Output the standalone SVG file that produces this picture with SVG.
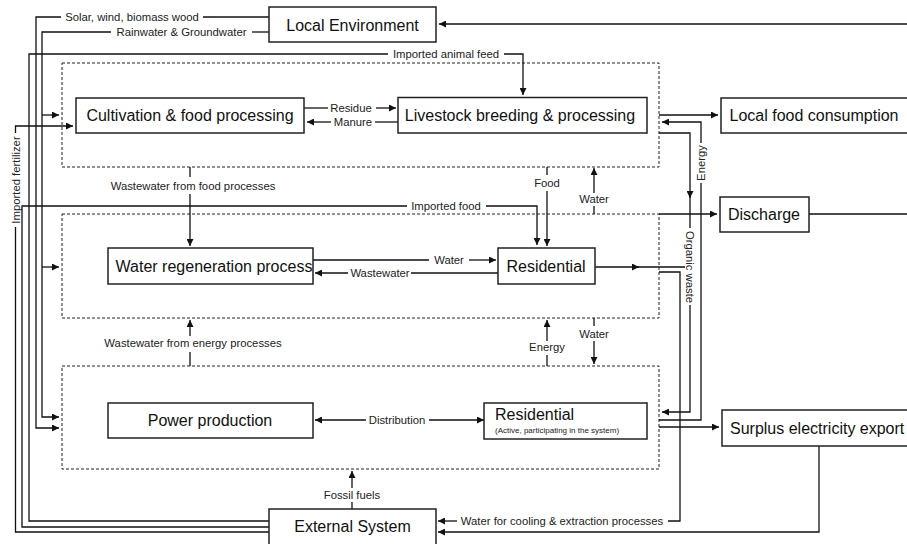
<svg xmlns="http://www.w3.org/2000/svg" width="907" height="544" viewBox="0 0 907 544">
<defs>
<marker id="arr" viewBox="0 0 10 10" refX="10" refY="5" markerWidth="9" markerHeight="7" markerUnits="userSpaceOnUse" orient="auto">
<path d="M0,0 L10,5 L0,10 z" fill="#111"/>
</marker>
</defs>
<style>
.box{fill:#fff;stroke:#222;stroke-width:1.5}
.sys{fill:none;stroke:#222;stroke-width:1;stroke-dasharray:3,2}
.ln{fill:none;stroke:#111;stroke-width:1.3}
.a{marker-end:url(#arr)}
.big{font-family:"Liberation Sans",Arial,sans-serif;font-size:16px;fill:#111;text-anchor:middle}
.lbl{font-family:"Liberation Sans",Arial,sans-serif;font-size:11.3px;fill:#222;text-anchor:middle}
.tiny{font-family:"Liberation Sans",Arial,sans-serif;font-size:8px;fill:#222}
</style>
<rect width="907" height="544" fill="#fff"/>

<g id="food-system"><rect class="sys" x="62" y="63" width="597" height="104"/></g>
<g id="water-system"><rect class="sys" x="62" y="214" width="597" height="104"/></g>
<g id="energy-system"><rect class="sys" x="62" y="366" width="597" height="103"/></g>

<g id="connectors">
<path class="ln" d="M269,17 H203"/>
<path class="ln a" d="M61,17 H36 V428 H59"/>
<path class="ln" d="M269,32 H252"/>
<path class="ln a" d="M111,32 H42 V417 H59"/>
<path class="ln a" d="M42,115 H59"/>
<path class="ln a" d="M42,267 H59"/>
<path class="ln" d="M269,521 H29 V54 H388"/>
<path class="ln a" d="M504,54 H523 V95"/>
<path class="ln" d="M269,527 H22 V206 H407"/>
<path class="ln a" d="M486,206 H537 V245"/>
<path class="ln" d="M269,532 H15.5 V227"/>
<path class="ln a" d="M15.5,133 V126 H73"/>

<path class="ln a" d="M907,24 H439"/>
<path class="ln" d="M809,214 H907"/>
<path class="ln a" d="M659,214 H717"/>
<path class="ln a" d="M659,115 H718"/>
<path class="ln a" d="M659,427 H719"/>
<path class="ln a" d="M819,446 V532 H438"/>
<path class="ln" d="M659,272 H680 V521 H668"/>
<path class="ln a" d="M457,521 H438"/>
<path class="ln" d="M659,420 H701 V183"/>
<path class="ln a" d="M701,143 V122 H662"/>
<path class="ln a" d="M659,133 H690 V198"/>
<path class="ln" d="M690,195 V228"/>
<path class="ln a" d="M690,305 V412 H662"/>
<path class="ln a" d="M595,267 H639"/>
<path class="ln" d="M634,267 H685"/>

<path class="ln" d="M304,108 H328"/>
<path class="ln a" d="M376,108 H396"/>
<path class="ln" d="M398,122 H375"/>
<path class="ln a" d="M331,122 H307"/>
<path class="ln" d="M190,167 V177"/>
<path class="ln a" d="M190,194 V246"/>
<path class="ln" d="M547,167 V175"/>
<path class="ln a" d="M547,191 V246"/>
<path class="ln" d="M594,214 V206"/>
<path class="ln a" d="M594,193 V168"/>
<path class="ln" d="M313,260 H429"/>
<path class="ln a" d="M469,260 H496"/>
<path class="ln" d="M498,273 H411"/>
<path class="ln a" d="M348,273 H315"/>
<path class="ln" d="M190,366 V352"/>
<path class="ln a" d="M190,336 V320"/>
<path class="ln" d="M547,366 V355"/>
<path class="ln a" d="M547,341 V320"/>
<path class="ln" d="M594,318 V326"/>
<path class="ln a" d="M594,341 V364"/>
<path class="ln a" d="M366,420 H315"/>
<path class="ln a" d="M429,420 H484"/>
<path class="ln" d="M352,509 V502"/>
<path class="ln a" d="M352,488 V471"/>

<text class="lbl" x="132" y="21">Solar, wind, biomass wood</text>
<text class="lbl" x="181.5" y="36">Rainwater &amp; Groundwater</text>
<text class="lbl" x="446" y="58">Imported animal feed</text>
<text class="lbl" x="446" y="210">Imported food</text>
<text class="lbl" transform="translate(15.5,180) rotate(-90)" y="4">Imported fertilizer</text>
<text class="lbl" x="351" y="112">Residue</text>
<text class="lbl" x="353" y="126">Manure</text>
<text class="lbl" x="193" y="190">Wastewater from food processes</text>
<text class="lbl" x="547" y="187">Food</text>
<text class="lbl" x="594" y="203">Water</text>
<text class="lbl" x="449" y="264">Water</text>
<text class="lbl" x="380" y="277">Wastewater</text>
<text class="lbl" x="193" y="347">Wastewater from energy processes</text>
<text class="lbl" x="547" y="351">Energy</text>
<text class="lbl" x="594" y="338">Water</text>
<text class="lbl" x="397" y="424">Distribution</text>
<text class="lbl" x="352" y="499">Fossil fuels</text>
<text class="lbl" x="562" y="525">Water for cooling &amp; extraction processes</text>
<text class="lbl" transform="translate(701,163) rotate(-90)" y="4">Energy</text>
<text class="lbl" transform="translate(690,267) rotate(90)" y="4">Organic waste</text>
</g>

<g id="local-environment"><rect class="box" x="269" y="7" width="167" height="35"/><text class="big" x="352.5" y="30.5">Local Environment</text></g>
<g id="cultivation"><rect class="box" x="76" y="98" width="228" height="35"/><text class="big" x="190" y="121">Cultivation &amp; food processing</text></g>
<g id="livestock"><rect class="box" x="398" y="97.5" width="249" height="35.5"/><text class="big" x="520" y="121">Livestock breeding &amp; processing</text></g>
<g id="local-food"><rect class="box" x="721" y="98" width="200" height="35"/><text class="big" x="814" y="121">Local food consumption</text></g>
<g id="discharge"><rect class="box" x="720" y="197" width="89" height="35"/><text class="big" x="764" y="220">Discharge</text></g>
<g id="water-regeneration"><rect class="box" x="108" y="248" width="205" height="36"/><text class="big" x="214" y="271.5">Water regeneration process</text></g>
<g id="residential-water"><rect class="box" x="498" y="248" width="97" height="36"/><text class="big" x="546" y="271.5">Residential</text></g>
<g id="power-production"><rect class="box" x="108" y="403" width="205" height="35"/><text class="big" x="210" y="426">Power production</text></g>
<g id="residential-energy"><rect class="box" x="484" y="403" width="163" height="36"/><text class="big" x="495" y="420" style="text-anchor:start">Residential</text><text class="tiny" x="495" y="433">(Active, participating in the system)</text></g>
<g id="surplus-export"><rect class="box" x="722" y="410" width="200" height="36"/><text class="big" x="730" y="433.5" style="text-anchor:start">Surplus electricity export</text></g>
<g id="external-system"><rect class="box" x="269" y="509" width="167" height="40"/><text class="big" x="352.5" y="531.5">External System</text></g>
</svg>
